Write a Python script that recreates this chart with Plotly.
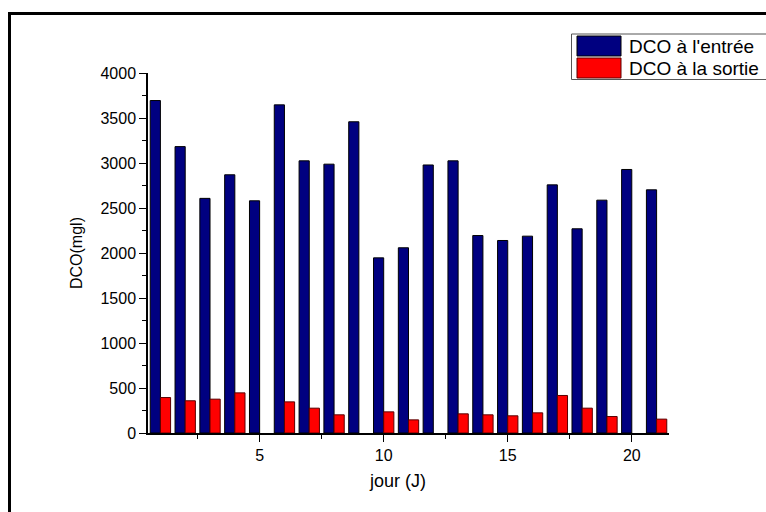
import plotly.graph_objects as go

# Daily COD (DCO) measurements, mg/l
jours = list(range(1, 22))
dco_entree = [3694, 3182, 2607, 2869, 2580, 3646, 3024, 2987, 3458, 1946,
              2058, 2978, 3024, 2194, 2139, 2187, 2757, 2269, 2587, 2928, 2702]
dco_sortie = [394, 358, 376, 446, None, 346, 276, 202, None, 235,
              146, None, 213, 202, 191, 224, 417, 276, 183, None, 154]

serie_noms = ["DCO à l'entrée", "DCO à la sortie"]
serie_couleurs = ["#000080", "#FF0000"]
serie_bords = ["#000000", "#5a0000"]

FONT = "Liberation Sans, Arial, sans-serif"

# plot area geometry in pixels (used to place the frame, titles and legend)
W, H = 766, 512
L, R, T, B = 148, 97, 73, 79
PW, PH = W - L - R, H - T - B


def px_x(px):
    return (px - L) / PW


def px_y(py):
    return (H - B - py) / PH


fig = go.Figure()
for nom, vals, coul, bord in zip(serie_noms, [dco_entree, dco_sortie],
                                 serie_couleurs, serie_bords):
    fig.add_trace(go.Bar(
        x=jours, y=vals, name=nom, showlegend=False,
        marker=dict(color=coul, line=dict(color=bord, width=1)),
    ))

shapes = [
    # outer frame of the figure
    dict(type="rect", xref="paper", yref="paper",
         x0=px_x(9.5), x1=px_x(790), y0=px_y(540), y1=px_y(13.5),
         line=dict(color="black", width=3), fillcolor="rgba(0,0,0,0)",
         layer="above"),
    # legend box
    dict(type="rect", xref="paper", yref="paper",
         x0=px_x(571.5), x1=px_x(790), y0=px_y(79.5), y1=px_y(34),
         line=dict(color="#555555", width=1), fillcolor="white",
         layer="above"),
]
annotations = [
    # x-axis title
    dict(x=px_x(397), y=px_y(481), xref="paper", yref="paper",
         text="jour (J)", showarrow=False, xanchor="center", yanchor="middle",
         font=dict(family=FONT, size=18, color="black")),
]
rows = [(36, 56), (58, 78)]
for (y0, y1), nom, coul, bord in zip(rows, serie_noms, serie_couleurs, serie_bords):
    shapes.append(dict(type="rect", xref="paper", yref="paper",
                       x0=px_x(577), x1=px_x(621), y0=px_y(y1), y1=px_y(y0),
                       fillcolor=coul, line=dict(color=bord, width=1),
                       layer="above"))
    annotations.append(dict(x=px_x(627), y=px_y((y0 + y1) / 2), xref="paper",
                            yref="paper", text=nom, showarrow=False,
                            xanchor="left", yanchor="middle",
                            font=dict(family=FONT, size=19, color="black")))

fig.update_layout(
    width=W, height=H,
    margin=dict(l=L, r=R, t=T, b=B),
    paper_bgcolor="white", plot_bgcolor="white",
    barmode="group", bargap=0.18, bargroupgap=0,
    font=dict(family=FONT, size=16, color="black"),
    shapes=shapes, annotations=annotations,
    showlegend=False,
)
fig.update_xaxes(
    range=[0.5, 21.5], tick0=0, dtick=5,
    showline=True, linecolor="black", linewidth=1.5,
    ticks="outside", ticklen=7, tickwidth=1.2, tickcolor="black",
    minor=dict(dtick=2.5, tick0=0, ticks="outside", ticklen=4, tickcolor="black"),
    showgrid=False, zeroline=False,
)
fig.update_yaxes(
    range=[0, 4000], tick0=0, dtick=500,
    showline=True, linecolor="black", linewidth=1.5,
    ticks="outside", ticklen=7, tickwidth=1.2, tickcolor="black",
    minor=dict(dtick=250, tick0=0, ticks="outside", ticklen=4, tickcolor="black"),
    showgrid=False, zeroline=False,
    title=dict(text="DCO(mgl)", font=dict(size=16), standoff=14),
)

fig.write_html("out.html")
